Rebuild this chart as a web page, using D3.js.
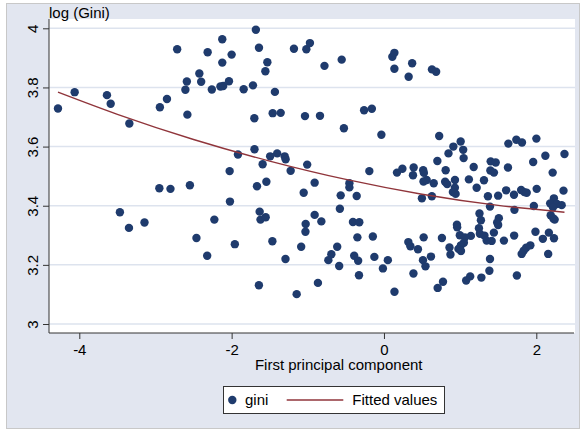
<!DOCTYPE html>
<html>
<head>
<meta charset="utf-8">
<script src="https://cdn.jsdelivr.net/npm/d3@7"></script>
<style>
  body { margin: 0; background: #ffffff; }
  svg { display: block; font-family: "Liberation Sans", Arial, sans-serif; }
</style>
</head>
<body>
<svg id="chart"></svg>
<script>
// first principal component (x) and log(Gini) (y)
const pcScores = [
  -4.280, -4.061, -3.637, -3.588, -3.343, -2.715, -2.942, -2.849, -2.607, -2.588,
  -2.581, -2.424, -2.400, -2.315, -2.260, -2.147, -2.111, -2.123, -2.123, -2.035,
  -2.000, -1.842, -1.720, -1.682, -1.641, -1.531, -1.557, -1.432, -1.182, -1.019,
  -0.972, -0.781, -0.555, 0.110, 0.137, 0.137, 0.370, 0.324, 0.630, 0.685,
  -1.702, -1.461, -1.356, -1.037, -0.840, -0.526, -0.261, -0.159, -0.034, 0.725,
  1.007, 0.911, 1.040, 0.847, 1.046, 0.701, 1.633, 1.738, 1.812, 2.001,
  2.119, 2.370, 1.959, 1.401, 1.467, 1.178, -1.700, -1.917, -1.494, -1.402,
  -1.304, -1.291, -1.593, -1.008, -2.026, -1.225, -0.192, 0.171, 0.242, 0.390,
  0.381, 0.515, 0.524, 0.810, 1.397, 1.444, 1.628, 2.215, -1.667, -1.544,
  -1.054, -0.910, -0.454, -0.454, -0.568, -0.358, -2.949, -2.803, -2.548, 0.519,
  0.561, 0.653, 0.803, 0.830, 0.932, 1.115, 1.313, 1.217, 0.931, 0.905,
  0.941, 0.629, 0.498, 1.365, 1.499, 1.604, 1.707, 1.801, 1.843, 1.874,
  2.005, 2.357, 2.231, 2.182, 2.271, 2.333, 2.219, 1.968, 1.392, 1.713,
  2.189, 2.224, 2.241, 1.254, 1.273, 1.508, 1.486, 1.499, 1.443, 0.958,
  0.961, 1.247, 1.259, 1.319, 1.348, 1.414, 1.575, 1.709, 1.989, 2.165,
  2.086, 2.232, 1.141, 0.996, 1.063, 1.049, 1.010, 0.978, 1.011, 0.761,
  0.521, 0.320, 0.347, 0.446, 0.860, 0.873, 0.617, 0.512, 0.545, 0.387,
  1.922, 1.867, 1.834, 1.808, 2.156, 1.392, 1.384, 1.279, 1.132, 1.079,
  0.775, 0.705, 1.745, -2.022, -1.632, -1.621, -1.553, -2.227, -2.462, -1.958,
  -2.321, -1.465, -1.293, -1.642, -1.146, -0.867, -1.087, -1.028, -1.031, -0.910,
  -0.822, -0.579, -0.614, -0.691, -0.730, -0.588, -0.407, -0.324, -0.349, -0.391,
  -0.339, -0.328, -0.146, -0.126, -0.014, 0.051, 0.138, -3.467, -3.348, -3.144
];
const logGini = [
  3.729, 3.784, 3.774, 3.745, 3.678, 3.929, 3.733, 3.761, 3.792, 3.820,
  3.708, 3.847, 3.819, 3.919, 3.793, 3.803, 3.805, 3.963, 3.884, 3.821,
  3.911, 3.794, 3.807, 3.995, 3.934, 3.885, 3.855, 3.785, 3.931, 3.929,
  3.950, 3.873, 3.894, 3.904, 3.917, 3.863, 3.882, 3.836, 3.861, 3.853,
  3.696, 3.713, 3.714, 3.703, 3.704, 3.662, 3.723, 3.728, 3.640, 3.636,
  3.617, 3.600, 3.589, 3.577, 3.561, 3.551, 3.610, 3.623, 3.614, 3.627,
  3.569, 3.575, 3.548, 3.550, 3.546, 3.531, 3.591, 3.573, 3.567, 3.577,
  3.567, 3.557, 3.540, 3.539, 3.517, 3.518, 3.517, 3.512, 3.525, 3.529,
  3.503, 3.520, 3.511, 3.520, 3.519, 3.512, 3.529, 3.512, 3.466, 3.481,
  3.444, 3.478, 3.476, 3.462, 3.435, 3.433, 3.459, 3.457, 3.469, 3.482,
  3.487, 3.476, 3.481, 3.473, 3.487, 3.489, 3.486, 3.461, 3.461, 3.446,
  3.440, 3.432, 3.425, 3.432, 3.434, 3.452, 3.437, 3.453, 3.446, 3.444,
  3.457, 3.451, 3.425, 3.408, 3.406, 3.402, 3.395, 3.399, 3.397, 3.386,
  3.368, 3.357, 3.353, 3.374, 3.351, 3.358, 3.343, 3.335, 3.309, 3.336,
  3.327, 3.324, 3.305, 3.299, 3.282, 3.281, 3.282, 3.299, 3.312, 3.309,
  3.288, 3.290, 3.298, 3.300, 3.293, 3.275, 3.266, 3.254, 3.247, 3.291,
  3.293, 3.277, 3.263, 3.253, 3.259, 3.235, 3.228, 3.216, 3.195, 3.171,
  3.266, 3.258, 3.248, 3.237, 3.237, 3.220, 3.180, 3.157, 3.161, 3.147,
  3.143, 3.122, 3.164, 3.414, 3.380, 3.353, 3.361, 3.353, 3.291, 3.270,
  3.231, 3.280, 3.220, 3.131, 3.101, 3.139, 3.261, 3.338, 3.312, 3.369,
  3.347, 3.390, 3.261, 3.236, 3.216, 3.196, 3.345, 3.344, 3.293, 3.231,
  3.214, 3.165, 3.296, 3.227, 3.188, 3.216, 3.109, 3.378, 3.325, 3.343
];

// fitted values, read at a few points along the curve
const fitX = [-4.28, -3.5, -2.5, -1.5, -0.5, 0.5, 1.5, 2.37];
const fitY = [3.784, 3.709, 3.624, 3.551, 3.489, 3.439, 3.401, 3.378];

const xTicks = [-4, -2, 0, 2];
const yTicks = [3, 3.2, 3.4, 3.6, 3.8, 4];

const width = 582, height = 430;
const plot = { left: 49, right: 575, top: 19, bottom: 333 };

const navy = "#1f3b6d";
const maroon = "#90353b";
const bg = "#e2e6f0";

// plain hyphen for negatives, like the original
const tickText = d => String(d);

const svg = d3.select("#chart")
    .attr("width", width)
    .attr("height", height);

// graph region
svg.append("rect")
    .attr("x", 6.5).attr("y", 3.5)
    .attr("width", 573).attr("height", 425)
    .attr("fill", bg)
    .attr("stroke", "#c8c8c8");

// plot region
svg.append("rect")
    .attr("x", plot.left).attr("y", plot.top)
    .attr("width", plot.right - plot.left)
    .attr("height", plot.bottom - plot.top)
    .attr("fill", "#ffffff");

const xScale = d3.scaleLinear().domain([-4, 2]).range([79.3, 536.3]);
const yScale = d3.scaleLinear().domain([3, 4]).range([324, 28.3]);

// grid lines
svg.append("g")
    .selectAll("line")
    .data(yTicks)
    .join("line")
    .attr("x1", plot.left).attr("x2", plot.right)
    .attr("y1", d => yScale(d)).attr("y2", d => yScale(d))
    .attr("stroke", "#dde3ee")
    .attr("stroke-width", 1.5);

// y axis
const yAxis = svg.append("g")
    .attr("transform", `translate(${plot.left}, 0)`)
    .call(d3.axisLeft(yScale).tickValues(yTicks).tickFormat(tickText).tickSize(6).tickSizeOuter(0));
yAxis.select(".domain").remove();
yAxis.selectAll(".tick line").attr("stroke", "#333");
yAxis.selectAll("text")
    .attr("transform", "rotate(-90)")
    .attr("x", 0)
    .attr("y", -11.5)
    .attr("dy", 0)
    .attr("text-anchor", "middle")
    .attr("fill", "#000")
    .style("font-size", "15px");

// x axis
const xAxis = svg.append("g")
    .attr("transform", `translate(0, ${plot.bottom})`)
    .call(d3.axisBottom(xScale).tickValues(xTicks).tickFormat(tickText).tickSize(6).tickSizeOuter(0));
xAxis.select(".domain").remove();
xAxis.selectAll(".tick line").attr("stroke", "#333");
xAxis.selectAll("text")
    .attr("y", 21.5)
    .attr("dy", 0)
    .attr("fill", "#000")
    .style("font-size", "15px");

// axis lines
svg.append("line")
    .attr("x1", plot.left).attr("x2", plot.left)
    .attr("y1", plot.top).attr("y2", plot.bottom)
    .attr("stroke", "#333");
svg.append("line")
    .attr("x1", plot.left).attr("x2", plot.right - 1)
    .attr("y1", plot.bottom).attr("y2", plot.bottom)
    .attr("stroke", "#333");

// points
svg.append("g")
    .selectAll("circle")
    .data(pcScores.map((x, i) => [x, logGini[i]]))
    .join("circle")
    .attr("cx", d => xScale(d[0]))
    .attr("cy", d => yScale(d[1]))
    .attr("r", 4.2)
    .attr("fill", navy);

// fitted line
const fitLine = d3.line()
    .x(d => xScale(d[0]))
    .y(d => yScale(d[1]))
    .curve(d3.curveMonotoneX);
svg.append("path")
    .datum(fitX.map((x, i) => [x, fitY[i]]))
    .attr("d", fitLine)
    .attr("fill", "none")
    .attr("stroke", maroon)
    .attr("stroke-width", 1.4);

// titles
svg.append("text")
    .attr("x", plot.left)
    .attr("y", 17.5)
    .style("font-size", "15px")
    .text("log (Gini)");

svg.append("text")
    .attr("x", 338.7)
    .attr("y", 370)
    .attr("text-anchor", "middle")
    .style("font-size", "15px")
    .text("First principal component");

// legend
const legend = svg.append("g");
legend.append("rect")
    .attr("x", 223.5).attr("y", 386.5)
    .attr("width", 221).attr("height", 27)
    .attr("fill", "#ffffff")
    .attr("stroke", "#333");
legend.append("circle")
    .attr("cx", 232.3).attr("cy", 400)
    .attr("r", 4.2)
    .attr("fill", navy);
legend.append("text")
    .attr("x", 245).attr("y", 405)
    .style("font-size", "15px")
    .text("gini");
legend.append("line")
    .attr("x1", 286.7).attr("x2", 343.3)
    .attr("y1", 400).attr("y2", 400)
    .attr("stroke", maroon)
    .attr("stroke-width", 1.4);
legend.append("text")
    .attr("x", 352.3).attr("y", 405)
    .style("font-size", "15px")
    .text("Fitted values");
</script>
</body>
</html>
